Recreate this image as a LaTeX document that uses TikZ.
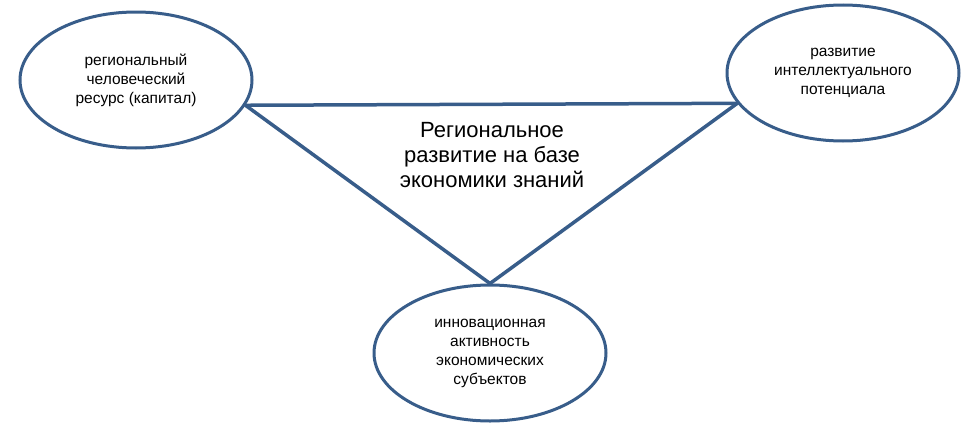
\documentclass[tikz,border=0pt]{standalone}
\usepackage{fontspec}
\setmainfont{Liberation Sans}
\usepackage{tikz}
\usetikzlibrary{shapes.geometric,positioning}
\definecolor{edgeblue}{RGB}{56,93,138}

\begin{document}
\begin{tikzpicture}[x=1pt,y=-1pt,
    goal/.style={ellipse,draw=edgeblue,line width=3pt,fill=white,
      minimum width=232pt,minimum height=136pt,inner sep=0pt,
      align=center,font=\fontsize{15.5}{19}\selectfont},
    link/.style={draw=edgeblue,line width=3.5pt,line cap=round}]
        \useasboundingbox (0,0) rectangle (970,431);
        %Nodes
        \node[goal] (res) at (136,80) {региональный\\человеческий\\ресурс (капитал)};
        \node[goal] (intel) at (843,73) {развитие\\интеллектуального\\потенциала};
        \node[goal] (innov) at (490,353) {инновационная\\активность\\экономических\\субъектов};
        %Centre text
        \node[align=center,font=\fontsize{22}{25}\selectfont] (base) at (492,155)
          {Региональное\\развитие на базе\\экономики знаний};
        %Draw edges
        \draw[link] (res.-13) -- (intel.-164);
        \draw[link] (res.-13) -- (innov.north);
        \draw[link] (intel.-164) -- (innov.north);
\end{tikzpicture}
\end{document}
